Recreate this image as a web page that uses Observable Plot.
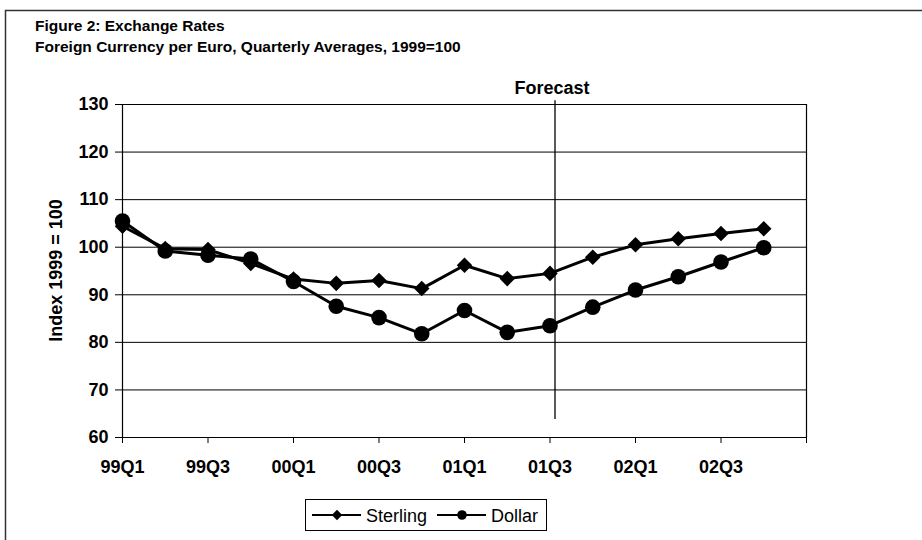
<!DOCTYPE html>
<html>
<head>
<meta charset="utf-8">
<script src="https://cdn.jsdelivr.net/npm/d3@7"></script>
<script src="https://cdn.jsdelivr.net/npm/@observablehq/plot@0.6"></script>
<style>
  html, body { margin: 0; padding: 0; background: #fff; }
  #chart svg { display: block; }
</style>
</head>
<body>
<div id="chart"></div>
<script>
// ---- data ----
const quarters = ["99Q1","99Q2","99Q3","99Q4","00Q1","00Q2","00Q3","00Q4",
                  "01Q1","01Q2","01Q3","01Q4","02Q1","02Q2","02Q3","02Q4"];
const sterling = [104.4, 99.7, 99.5, 96.6, 93.3, 92.4, 93.0, 91.3,
                  96.2, 93.4, 94.5, 97.9, 100.5, 101.8, 102.9, 103.9];
const dollar   = [105.5, 99.2, 98.3, 97.5, 92.8, 87.6, 85.2, 81.8,
                  86.7, 82.1, 83.5, 87.4, 91.0, 93.8, 96.9, 99.9];
const yTicks = [60, 70, 80, 90, 100, 110, 120, 130];
const xTickIndex = [0, 2, 4, 6, 8, 10, 12, 14, 16];
const forecastAt = [10];          // 01Q3
const forecastRange = [63.8, 130.8];
const titleText = "Figure 2: Exchange Rates";
const subtitleText = "Foreign Currency per Euro, Quarterly Averages, 1999=100";
const yLabel = "Index 1999 = 100";
const seriesNames = ["Sterling", "Dollar"];

const FONT = "'Liberation Sans', Arial, Helvetica, sans-serif";

const sData = quarters.map((q, i) => ({i, q, v: sterling[i], series: "Sterling"}));
const dData = quarters.map((q, i) => ({i, q, v: dollar[i], series: "Dollar"}));

const chart = Plot.plot({
  width: 922,
  height: 540,
  marginTop: 104,
  marginLeft: 122,
  marginRight: 116,
  marginBottom: 103,
  style: {fontFamily: FONT, background: "#fff", color: "#000", overflow: "visible"},
  x: {type: "linear", domain: [0, 16]},
  y: {domain: [60, 130]},
  marks: [
    Plot.ruleY(yTicks, {stroke: "#000", strokeWidth: 1}),
    Plot.ruleX([0, 16], {stroke: "#000", strokeWidth: 1.2}),
    Plot.axisY({ticks: yTicks, tickSize: 7, tickPadding: 7, fontSize: 18, fontWeight: "bold", label: null, stroke: "#000"}),
    Plot.axisX({ticks: xTickIndex, tickSize: 6, tickPadding: 17, fontSize: 18, fontWeight: "bold",
                tickFormat: i => quarters[i] ?? "", label: null}),
    Plot.ruleX(forecastAt, {x: d => d, y1: forecastRange[0], y2: forecastRange[1], dx: 5, stroke: "#000", strokeWidth: 1.3, clip: false}),
    Plot.text(forecastAt, {x: d => d, y: 130, text: () => "Forecast", dx: 2, dy: -11, lineAnchor: "bottom",
                           fontSize: 18, fontWeight: "bold"}),
    Plot.line(sData, {x: "i", y: "v", stroke: "#000", strokeWidth: 3}),
    Plot.line(dData, {x: "i", y: "v", stroke: "#000", strokeWidth: 3}),
    Plot.dot(sData, {x: "i", y: "v", symbol: "diamond2", r: 7, fill: "#000", stroke: "none"}),
    Plot.dot(dData, {x: "i", y: "v", symbol: "circle", r: 7.8, fill: "#000", stroke: "none"})
  ]
});

document.getElementById("chart").appendChild(chart);

// ---- decorations: border, titles, axis title, legend ----
const svg = d3.select(chart);
svg.insert("rect", ":first-child")
  .attr("x", 5.5).attr("y", 10.5).attr("width", 1000).attr("height", 1000)
  .attr("fill", "#fff").attr("stroke", "#333").attr("stroke-width", 1.5);

const addText = (x, y, txt, size, weight, anchor = "start") =>
  svg.append("text").attr("x", x).attr("y", y)
    .attr("font-family", FONT).attr("font-size", size).attr("font-weight", weight)
    .attr("text-anchor", anchor).attr("fill", "#000").text(txt);

addText(35, 31, titleText, 15.5, "bold");
addText(35, 52, subtitleText, 15.5, "bold");

svg.append("text")
  .attr("transform", "translate(62,270.5) rotate(-90)")
  .attr("font-family", FONT).attr("font-size", 18).attr("font-weight", "bold")
  .attr("text-anchor", "middle").attr("fill", "#000").text(yLabel);

const lg = svg.append("g");
lg.append("rect").attr("x", 305.5).attr("y", 499.5).attr("width", 241).attr("height", 31)
  .attr("fill", "#fff").attr("stroke", "#000").attr("stroke-width", 1);
const items = [
  {name: seriesNames[0], x0: 312, sym: d3.symbolDiamond2},
  {name: seriesNames[1], x0: 437, sym: d3.symbolCircle}
];
items.forEach(it => {
  lg.append("line").attr("x1", it.x0).attr("x2", it.x0 + 49).attr("y1", 515).attr("y2", 515)
    .attr("stroke", "#000").attr("stroke-width", 2);
  lg.append("path").attr("d", d3.symbol(it.sym, it.sym === d3.symbolCircle ? 72 : 70)())
    .attr("transform", `translate(${it.x0 + 25},515)`).attr("fill", "#000");
  lg.append("text").attr("x", it.x0 + 54).attr("y", 521.5)
    .attr("font-family", FONT).attr("font-size", 18).attr("font-weight", "normal")
    .attr("text-anchor", "start").attr("fill", "#000").text(it.name);
});
</script>
</body>
</html>
